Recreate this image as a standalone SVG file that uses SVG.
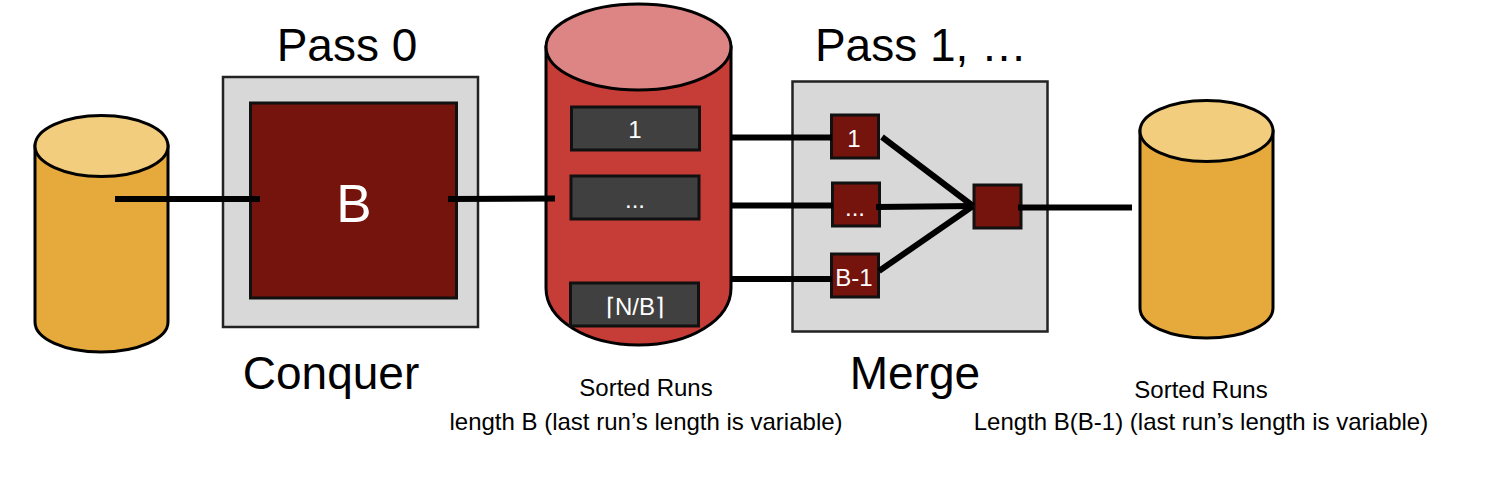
<svg xmlns="http://www.w3.org/2000/svg" width="1496" height="500" viewBox="0 0 1496 500">
<style>
text{font-family:"Liberation Sans",Arial,sans-serif;text-anchor:middle}
.t{font-size:46px;fill:#000}
.s{font-size:24px;fill:#000}
.w{fill:#fff;font-size:24px}
.box{fill:#d8d8d8;stroke:#222;stroke-width:2.5}
.red{fill:#75130d;stroke:#111;stroke-width:3}
.run{fill:#404040;stroke:#111;stroke-width:3}
.body{stroke:#000;stroke-width:3}
.c{stroke:#000;stroke-width:6;fill:none}
</style>
<rect width="1496" height="500" fill="#fff"/>
<g id="disk-input"><path class="body" fill="#e6aa3c" d="M35 146V322C35 339 65 352 101 352S168 339 168 322V146Z"/><ellipse class="body" fill="#f2cd7e" cx="101.500" cy="146" rx="66.500" ry="30.500"/></g>
<g id="pass0"><rect class="box" x="223" y="77" width="255" height="250"/><rect class="red" x="250.500" y="103" width="206" height="195"/><text x="354" y="222" fill="#fff" font-size="53">B</text></g>
<g id="disk-runs"><path class="body" fill="#c63c37" d="M546 47V288C546 320 587 345 638.500 345S731 320 731 288V47Z"/><ellipse class="body" fill="#dc8584" cx="638.500" cy="47" rx="92.500" ry="43"/></g>
<g id="run-1"><rect class="run" x="571.500" y="107" width="128" height="43"/><text class="w" x="635" y="138">1</text></g>
<g id="run-dots"><rect class="run" x="571" y="176" width="128" height="43"/><text class="w" x="635" y="208">...</text></g>
<g id="run-last"><rect class="run" x="570.500" y="283" width="128" height="43"/><text class="w" x="635" y="315">⌈N/B⌉</text></g>
<g id="pass1"><rect class="box" x="792.500" y="81.500" width="255" height="250"/></g>
<g id="buf-1"><rect class="red" x="831.500" y="115" width="47" height="43"/><text class="w" x="854" y="147">1</text></g>
<g id="buf-dots"><rect class="red" x="832.500" y="183" width="47" height="43"/><text class="w" x="855" y="216">...</text></g>
<g id="buf-b1"><rect class="red" x="831.500" y="254" width="47" height="43"/><text class="w" x="854" y="286">B-1</text></g>
<g id="buf-out"><rect class="red" x="974" y="185" width="47" height="43"/></g>
<g id="connectors" class="c">
<path d="M115 199H260"/><path d="M448 199L555 198.500"/>
<path d="M731 137.500H832"/><path d="M731 205.500H833"/><path d="M731 279H832"/>
<path d="M882 137L973 206"/><path d="M876 207L973 206"/><path d="M879 271L973 206"/>
<path d="M1018 207.500H1132"/>
</g>
<g id="labels">
<text class="t" x="347" y="61">Pass 0</text>
<text class="t" x="921" y="61">Pass 1, …</text>
<text class="t" x="331" y="389">Conquer</text>
<text class="t" x="915" y="389">Merge</text>
<text class="s" x="646" y="396">Sorted Runs</text>
<text class="s" x="646" y="430">length B (last run’s length is variable)</text>
<text class="s" x="1201" y="398">Sorted Runs</text>
<text class="s" x="1201" y="430">Length B(B-1) (last run’s length is variable)</text>
</g>
<g id="disk-output"><path class="body" fill="#e6aa3c" d="M1140 131V308C1140 325 1170 338 1206.500 338S1273 325 1273 308V131Z"/><ellipse class="body" fill="#f2cd7e" cx="1206.500" cy="131" rx="66.500" ry="30.500"/></g>
</svg>
